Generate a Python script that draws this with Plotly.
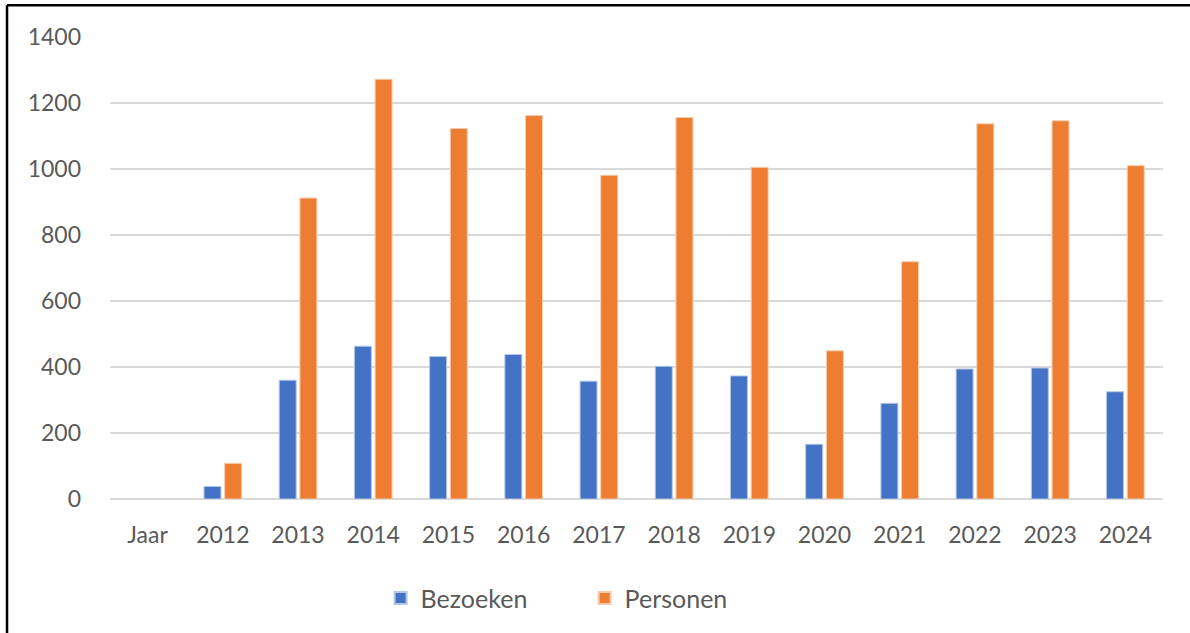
import plotly.graph_objects as go

categories = ["Jaar", "2012", "2013", "2014", "2015", "2016", "2017", "2018",
              "2019", "2020", "2021", "2022", "2023", "2024"]
bezoeken = [None, 38, 360, 463, 432, 438, 357, 402, 373, 166, 290, 394, 397, 325]
personen = [None, 108, 912, 1272, 1123, 1162, 981, 1156, 1005, 449, 719, 1137, 1146, 1010]
y_ticks = [0, 200, 400, 600, 800, 1000, 1200, 1400]

FONT = "Lato, Carlito, Calibri, sans-serif"
GREY = "#595959"

fig = go.Figure()
fig.add_trace(go.Bar(x=categories, y=bezoeken, name="Bezoeken",
                     marker=dict(color="#4472C4", line=dict(color="#b4c7e7", width=1))))
fig.add_trace(go.Bar(x=categories, y=personen, name="Personen",
                     marker=dict(color="#ED7D31", line=dict(color="#f8cbad", width=1))))

fig.update_layout(
    width=1190, height=633,
    margin=dict(l=110, r=27, t=37, b=131),
    paper_bgcolor="white", plot_bgcolor="white",
    barmode="group", bargap=0.45, bargroupgap=0.18,
    font=dict(family=FONT, size=23, color=GREY),
    showlegend=True,
    legend=dict(orientation="h", x=0.257, xanchor="left", y=-0.215, yanchor="middle",
                font=dict(family=FONT, size=25, color=GREY), entrywidth=159,
                itemsizing="constant"),
    xaxis=dict(showgrid=False, showline=False, ticks="", ticklabelstandoff=20,
               tickfont=dict(size=23, color=GREY)),
    yaxis=dict(range=[0, 1400], tickvals=y_ticks, showgrid=True, gridcolor="#d9d9d9",
               gridwidth=2, zeroline=True, zerolinecolor="#d9d9d9", zerolinewidth=2,
               showline=False, ticks="", ticklabelstandoff=28,
               tickfont=dict(size=23, color=GREY)),
    shapes=[
        dict(type="line", xref="paper", yref="paper", x0=-0.0978, x1=-0.0978,
             y0=-0.4, y1=1.0688, line=dict(color="black", width=2.5)),
        dict(type="line", xref="paper", yref="paper", x0=-0.0978, x1=1.1,
             y0=1.0688, y1=1.0688, line=dict(color="black", width=2.5)),
    ],
)

fig.write_html("out.html", config={"displayModeBar": False},
               post_script="document.body.style.margin='0';")
